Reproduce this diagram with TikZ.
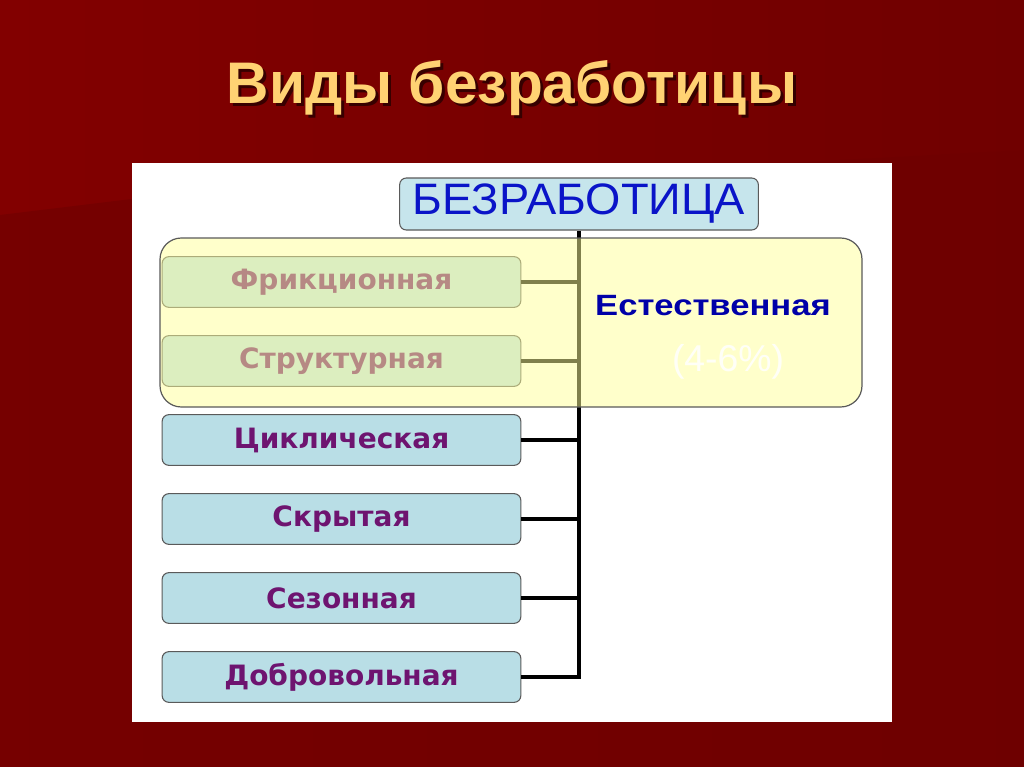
\documentclass[tikz,border=0pt]{standalone}
\usepackage{fontspec}
\usepackage{xcolor}
\setmainfont{Liberation Sans}
\newfontfamily\verd{DejaVu Sans}
\usetikzlibrary{positioning}

\definecolor{bgred}{HTML}{820000}
\definecolor{bgdark}{HTML}{6E0000}
\definecolor{titlegold}{HTML}{FFD273}
\definecolor{boxblue}{HTML}{B9DEE6}
\definecolor{topblue}{HTML}{C6E5EC}
\definecolor{boxline}{HTML}{5A5A5A}
\definecolor{kindtext}{HTML}{6E1470}
\definecolor{natyellow}{HTML}{FFFF99}
\definecolor{natblue}{HTML}{0000A8}
\definecolor{rootblue}{HTML}{0A14C8}

\begin{document}
\begin{tikzpicture}[x=0.75pt, y=-0.75pt,
    kind/.style={rectangle, draw=boxline, line width=0.8pt, fill=boxblue, rounded corners=5pt,
        minimum width=269pt, minimum height=38pt, inner sep=0pt,
        font=\verd\bfseries\fontsize{21}{21}\selectfont, text=kindtext},
    root/.style={rectangle, draw=boxline, line width=0.8pt, fill=topblue, rounded corners=5pt,
        minimum width=269pt, minimum height=39pt, inner sep=0pt,
        font=\fontsize{33}{33}\selectfont, text=rootblue},
    link/.style={line width=3pt, black},
]
\useasboundingbox (0,0) rectangle (1024,767);

% background of the slide
\shade[left color=bgred, right color=bgdark!90!bgred] (0,0) rectangle (1024,767);
\fill[bgdark, opacity=0.6] (0,215) -- (140,198) -- (1024,150) -- (1024,767) -- (0,767) -- cycle;

% title with its shadow
\node[font=\bfseries\fontsize{44}{44}\selectfont, text=black, opacity=0.55] (titleshadow) at (515,91) {Виды безработицы};
\node[font=\bfseries\fontsize{44}{44}\selectfont, text=titlegold] (title) at (512,88) {Виды безработицы};

% white panel
\fill[white] (132,163) rectangle (892,722);

% root and kinds
\node[root] (root) at (579,204) {\scalebox{1.03}[1]{БЕЗРАБОТИЦА}};
\node[kind] (fric)  at (341.5,282) {Фрикционная};
\node[kind] (struc) at (341.5,361) {Структурная};
\node[kind] (cycl)  at (341.5,440) {Циклическая};
\node[kind] (hidd)  at (341.5,519) {Скрытая};
\node[kind] (seas)  at (341.5,598) {Сезонная};
\node[kind] (volu)  at (341.5,677) {Добровольная};

% spine and links
\coordinate (spinebot) at (579,679);
\draw[link] (root.south) -- (spinebot);
\foreach \k in {fric, struc, cycl, hidd, seas, volu}
    \draw[link] (\k.east) -- (\k.east -| spinebot);

% natural unemployment overlay
\draw[draw=boxline, line width=0.9pt, fill=natyellow, fill opacity=0.5, rounded corners=16pt]
    (160,238) rectangle (862,407);
\node[font=\bfseries\fontsize{22}{22}\selectfont, text=natblue] (natural) at (713,306) {\scalebox{1.18}[1]{Естественная}};
\node[font=\fontsize{28}{28}\selectfont, text=white, opacity=0.85] (share) at (728,362) {(4-6\%)};

\end{tikzpicture}
\end{document}
